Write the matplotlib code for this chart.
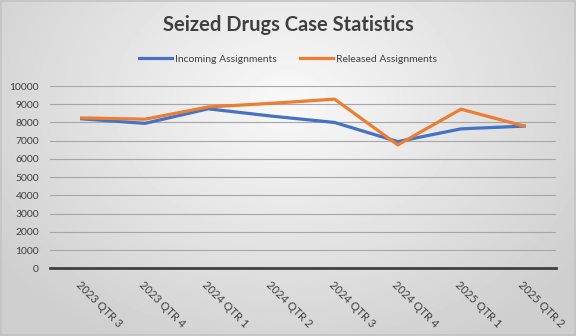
import numpy as np
import matplotlib
matplotlib.use('Agg')
import matplotlib.pyplot as plt

quarters = ['2023 QTR 3', '2023 QTR 4', '2024 QTR 1', '2024 QTR 2',
            '2024 QTR 3', '2024 QTR 4', '2025 QTR 1', '2025 QTR 2']
incoming = [8200, 7950, 8750, 8350, 8000, 6950, 7650, 7800]
released = [8250, 8180, 8850, 9050, 9280, 6770, 8730, 7800]

plt.rcParams['font.family'] = ['Lato', 'DejaVu Sans']

fig = plt.figure(figsize=(5.76, 3.36), dpi=100)

# gray radial gradient background, like the Excel chart style
bg = fig.add_axes([0, 0, 1, 1], zorder=-10)
yy, xx = np.mgrid[0:1:336j, 0:1:576j]
r = np.sqrt(((xx - 0.5) / 0.75) ** 2 + ((yy - 0.3) / 1.0) ** 2)
shade = np.clip(0.975 - 0.2 * r, 0.81, 0.975)
bg.imshow(shade, cmap='gray', vmin=0, vmax=1, aspect='auto',
          extent=[0, 1, 1, 0])
bg.set_xlim(0, 1)
bg.set_ylim(1, 0)
bg.axis('off')
fig.patches.append(plt.Rectangle((0.001, 0.002), 0.997, 0.995, transform=fig.transFigure,
                                 fill=False, edgecolor='#c4c4c4', lw=1.2))

ax = fig.add_axes([0.087, 0.2015, 0.878, 0.5425])
ax.patch.set_alpha(0)
x = np.arange(len(quarters))
ax.plot(x, incoming, color='#4472C4', lw=2.3, label='Incoming Assignments',
        solid_joinstyle='round')
ax.plot(x, released, color='#ED7D31', lw=2.3, label='Released Assignments',
        solid_joinstyle='round')

ax.set_xlim(-0.5, len(quarters) - 0.5)
ax.set_ylim(0, 10000)
ax.set_yticks(range(0, 10001, 1000))
ax.grid(axis='y', color='#a6a6a6', lw=0.8)
ax.set_axisbelow(True)
for s in ['top', 'right', 'left']:
    ax.spines[s].set_visible(False)
ax.spines['bottom'].set_color('#404040')
ax.spines['bottom'].set_linewidth(2)
ax.tick_params(axis='y', length=0, labelsize=7.5, labelcolor='#404040', pad=8)
ax.tick_params(axis='x', length=0, pad=8)
ax.set_xticks(x)
ax.set_xticklabels(quarters, rotation=-45, ha='left', va='top',
                   rotation_mode='anchor', fontsize=8, color='#404040')

fig.text(0.5, 0.925, 'Seized Drugs Case Statistics', ha='center', va='center',
         fontsize=14.5, fontweight='bold', color='#404040')
fig.legend(loc='center', bbox_to_anchor=(0.5, 0.823), ncol=2, frameon=False,
           fontsize=7.5, handlelength=3.2, handletextpad=0.3, columnspacing=2.2,
           labelcolor='#404040')

fig.savefig('out.png', dpi=100)
